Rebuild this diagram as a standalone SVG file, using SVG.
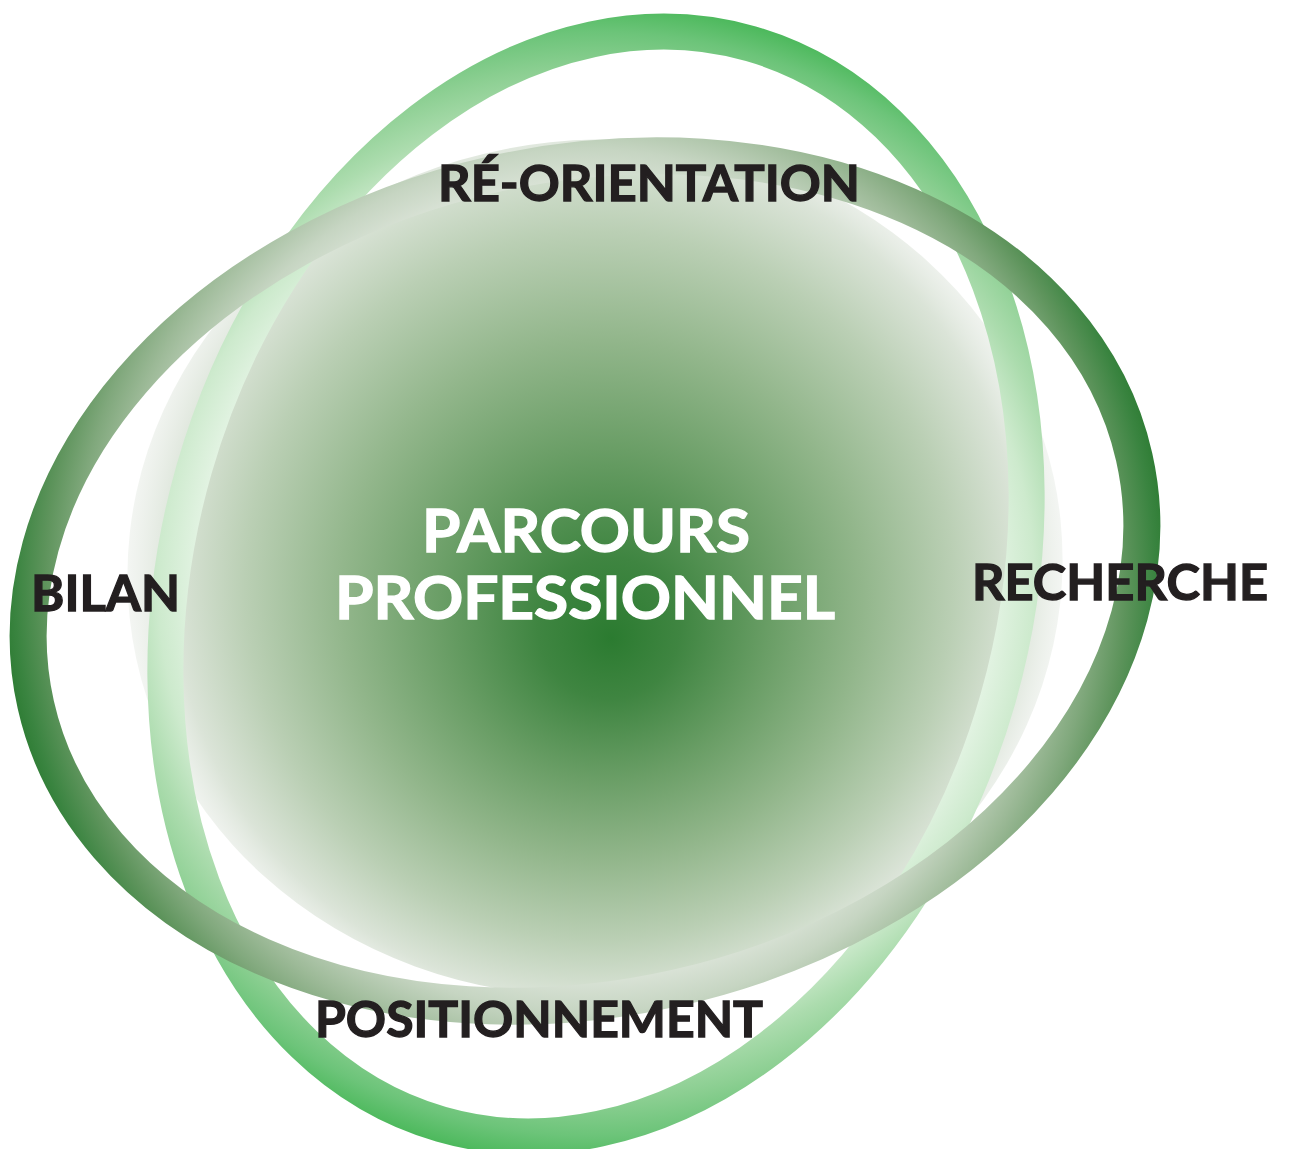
<svg xmlns="http://www.w3.org/2000/svg" width="1289" height="1149" viewBox="0 0 1289 1149">
<defs>
<style>
.lbl{font-family:Lato,"Liberation Sans",Arial,sans-serif;font-weight:700;fill:#231f20;stroke:#231f20;stroke-width:1.3px;font-size:50px}
.ctr{font-family:Lato,"Liberation Sans",Arial,sans-serif;font-weight:700;fill:#ffffff;stroke:#ffffff;stroke-width:1.3px;font-size:60px}
</style>
<radialGradient id="gBlob" gradientUnits="userSpaceOnUse" cx="595" cy="568" r="472" fx="604" fy="640">
<stop offset="0" stop-color="#2b7b30"/>
<stop offset="0.15" stop-color="#3f8541"/>
<stop offset="0.35" stop-color="#6a9e66"/>
<stop offset="0.55" stop-color="#92b68b"/>
<stop offset="0.75" stop-color="#bacfb4"/>
<stop offset="0.9" stop-color="#dbe4d8"/>
<stop offset="1" stop-color="#eef1ed" stop-opacity="0.6"/>
</radialGradient>
<radialGradient id="gLight" gradientUnits="userSpaceOnUse" cx="596" cy="584" r="600">
<stop offset="0.66" stop-color="#e4f4e4"/>
<stop offset="0.73" stop-color="#cdeacd"/>
<stop offset="0.79" stop-color="#acdcae"/>
<stop offset="0.86" stop-color="#8ccf92"/>
<stop offset="0.92" stop-color="#6cc479"/>
<stop offset="0.97" stop-color="#4ab85a"/>
<stop offset="1" stop-color="#40b352"/>
</radialGradient>
<radialGradient id="gDark" gradientUnits="userSpaceOnUse" cx="585" cy="581" r="600">
<stop offset="0.66" stop-color="#dae3d7"/>
<stop offset="0.72" stop-color="#c6d5c2"/>
<stop offset="0.80" stop-color="#9dba98"/>
<stop offset="0.85" stop-color="#80a87c"/>
<stop offset="0.90" stop-color="#5e945c"/>
<stop offset="0.95" stop-color="#3a8440"/>
<stop offset="0.98" stop-color="#2a7a30"/>
<stop offset="1" stop-color="#247629"/>
</radialGradient>
</defs>
<rect width="1289" height="1149" fill="#ffffff"/>
<g id="blob">
<ellipse cx="595" cy="568" rx="468" ry="428" transform="rotate(-6 595 568)" fill="url(#gBlob)"/>
</g>
<g id="ring-light">
<ellipse cx="596" cy="584" rx="418" ry="562" transform="rotate(16 596 584)" fill="none" stroke="url(#gLight)" stroke-width="36"/>
</g>
<g id="ring-dark">
<ellipse cx="585" cy="581" rx="563" ry="417" transform="rotate(-12.7 585 581)" fill="none" stroke="url(#gDark)" stroke-width="37"/>
</g>
<g id="center-label">
<text class="ctr" x="422" y="552" textLength="328" lengthAdjust="spacingAndGlyphs">PARCOURS</text>
<text class="ctr" x="335" y="619" textLength="500" lengthAdjust="spacingAndGlyphs">PROFESSIONNEL</text>
</g>
<g id="label-reorientation"><text class="lbl" x="438" y="201" textLength="422" lengthAdjust="spacingAndGlyphs">RÉ-ORIENTATION</text></g>
<g id="label-bilan"><text class="lbl" x="31" y="611" textLength="149" lengthAdjust="spacingAndGlyphs">BILAN</text></g>
<g id="label-recherche"><text class="lbl" x="972" y="600" textLength="296" lengthAdjust="spacingAndGlyphs">RECHERCHE</text></g>
<g id="label-positionnement"><text class="lbl" x="315" y="1037" textLength="448" lengthAdjust="spacingAndGlyphs">POSITIONNEMENT</text></g>
</svg>
